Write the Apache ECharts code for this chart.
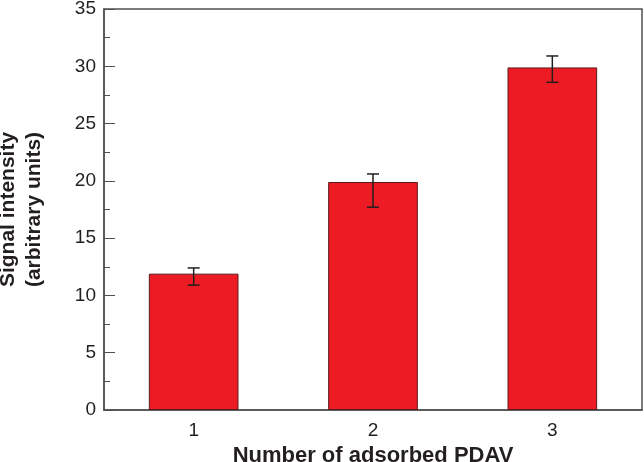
<!DOCTYPE html>
<html>
<head>
<meta charset="utf-8">
<script src="https://cdn.jsdelivr.net/npm/echarts@6/dist/echarts.min.js"></script>
<style>
  html, body { margin: 0; padding: 0; background: #fff; }
  #chart { width: 644px; height: 462px; }
</style>
</head>
<body>
<div id="chart"></div>
<script>
const categories = ['1', '2', '3'];
const signal = [11.9, 19.9, 29.9];
const errLow = [10.9, 17.7, 28.6];
const errHigh = [12.4, 20.6, 30.9];

const chart = echarts.init(document.getElementById('chart'));

const axisColor = '#505050';
const textColor = '#231f20';
const font = 'Liberation Sans, Arial, sans-serif';

const option = {
  animation: false,
  grid: {
    left: 104,
    right: 2,
    top: 9,
    bottom: 52,
    containLabel: false,
    outerBoundsMode: 'none',
    show: true,
    borderColor: axisColor,
    borderWidth: 1.5
  },
  xAxis: {
    type: 'category',
    data: categories,
    name: 'Number of adsorbed PDAV',
    nameLocation: 'middle',
    nameGap: 31,
    nameTextStyle: { fontFamily: font, fontSize: 22, fontWeight: 'bold', color: textColor },
    axisLine: { lineStyle: { color: axisColor, width: 1.5 } },
    axisTick: { inside: true, length: 6, lineStyle: { color: axisColor } },
    axisLabel: { fontFamily: font, fontSize: 19, color: textColor, margin: 11 },
    splitLine: { show: false }
  },
  yAxis: {
    type: 'value',
    min: 0,
    max: 35,
    interval: 5,
    name: 'Signal intensity\n(arbitrary units)',
    nameLocation: 'middle',
    nameGap: 57,
    nameRotate: 90,
    nameTextStyle: { fontFamily: font, fontSize: 21, fontWeight: 'bold', color: textColor, lineHeight: 26 },
    axisLine: { show: true, lineStyle: { color: axisColor, width: 1.5 } },
    axisTick: { show: true, inside: true, length: 11, lineStyle: { color: axisColor } },
    minorTick: { show: true, splitNumber: 2, length: 6, lineStyle: { color: axisColor } },
    axisLabel: { fontFamily: font, fontSize: 19, color: textColor, margin: 8 },
    splitLine: { show: false }
  },
  series: [
    {
      type: 'bar',
      data: signal,
      barWidth: '50%',
      itemStyle: { color: '#ed1c24', borderColor: '#5a1a1c', borderWidth: 1 }
    },
    {
      type: 'custom',
      data: categories.map((c, i) => [i, errLow[i], errHigh[i]]),
      z: 10,
      renderItem: function (params, api) {
        const lo = api.coord([api.value(0), api.value(1)]);
        const hi = api.coord([api.value(0), api.value(2)]);
        const w = 6;
        const style = { stroke: '#231f20', lineWidth: 1.5 };
        return {
          type: 'group',
          children: [
            { type: 'line', shape: { x1: lo[0], y1: lo[1], x2: hi[0], y2: hi[1] }, style },
            { type: 'line', shape: { x1: hi[0] - w, y1: hi[1], x2: hi[0] + w, y2: hi[1] }, style },
            { type: 'line', shape: { x1: lo[0] - w, y1: lo[1], x2: lo[0] + w, y2: lo[1] }, style }
          ]
        };
      }
    }
  ]
};

chart.setOption(option);
</script>
</body>
</html>
